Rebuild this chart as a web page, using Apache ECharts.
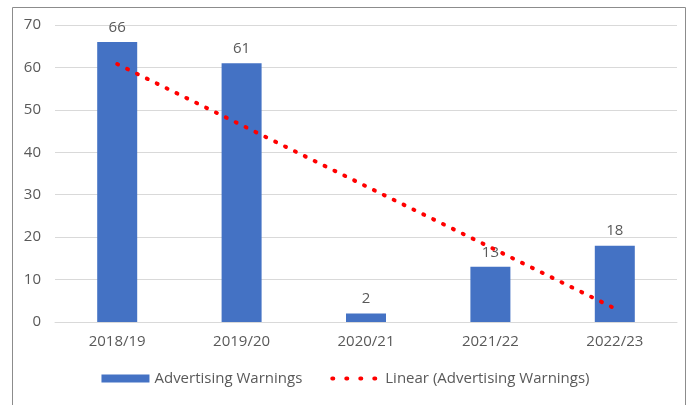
<!DOCTYPE html>
<html>
<head>
<meta charset="utf-8">
<script src="https://cdn.jsdelivr.net/npm/echarts@6/dist/echarts.min.js"></script>
<style>
    html, body { margin: 0; padding: 0; background: #fff; }
    #chart { width: 691px; height: 405px; }
</style>
</head>
<body>
<div id="chart"></div>
<script>
const years = ['2018/19', '2019/20', '2020/21', '2021/22', '2022/23']
const warnings = [66, 61, 2, 13, 18]
// trendline values
const trend = [60.8, 46.4, 32, 17.6, 3.2]
const yTicks = [0, 10, 20, 30, 40, 50, 60, 70]

const textColor = '#595959'
const font = 'Open Sans'

const chart = echarts.init(document.getElementById('chart'))
chart.setOption({
    animation: false,
    textStyle: { fontFamily: font },
    graphic: [
        {
            type: 'rect',
            shape: { x: 12.5, y: 7.5, width: 673, height: 420 },
            style: { fill: 'none', stroke: '#8c8c8c', lineWidth: 1 },
            silent: true
        }
    ],
    grid: { left: 55, right: 14, top: 25, bottom: 83 },
    legend: {
        bottom: 14,
        left: 'center',
        itemWidth: 48,
        itemHeight: 8,
        itemGap: 28,
        textStyle: { color: textColor, fontSize: 15, fontFamily: font },
        data: [
            { name: 'Advertising Warnings', icon: 'rect' },
            {
                name: 'Linear (Advertising Warnings)',
                itemStyle: { opacity: 0 },
                lineStyle: { color: '#ff0000', width: 4, type: [1, 13], cap: 'round' }
            }
        ]
    },
    xAxis: {
        type: 'category',
        data: years,
        axisTick: { show: false },
        axisLine: { lineStyle: { color: '#d9d9d9' } },
        axisLabel: { color: textColor, fontSize: 15, margin: 12 }
    },
    yAxis: {
        type: 'value',
        min: yTicks[0],
        max: yTicks[yTicks.length - 1],
        interval: 10,
        axisLine: { show: false },
        axisTick: { show: false },
        splitLine: { lineStyle: { color: '#d9d9d9' } },
        axisLabel: { color: textColor, fontSize: 15, margin: 14 }
    },
    series: [
        {
            name: 'Advertising Warnings',
            type: 'bar',
            data: warnings,
            barWidth: 40,
            itemStyle: { color: '#4472c4' },
            label: { show: true, position: 'top', color: textColor, fontSize: 15, distance: 7 }
        },
        {
            name: 'Linear (Advertising Warnings)',
            type: 'line',
            data: trend,
            symbol: 'none',
            itemStyle: { color: '#ff0000' },
            lineStyle: { color: '#ff0000', width: 4, type: [1, 10], cap: 'round' },
            z: 5
        }
    ]
})
</script>
</body>
</html>
